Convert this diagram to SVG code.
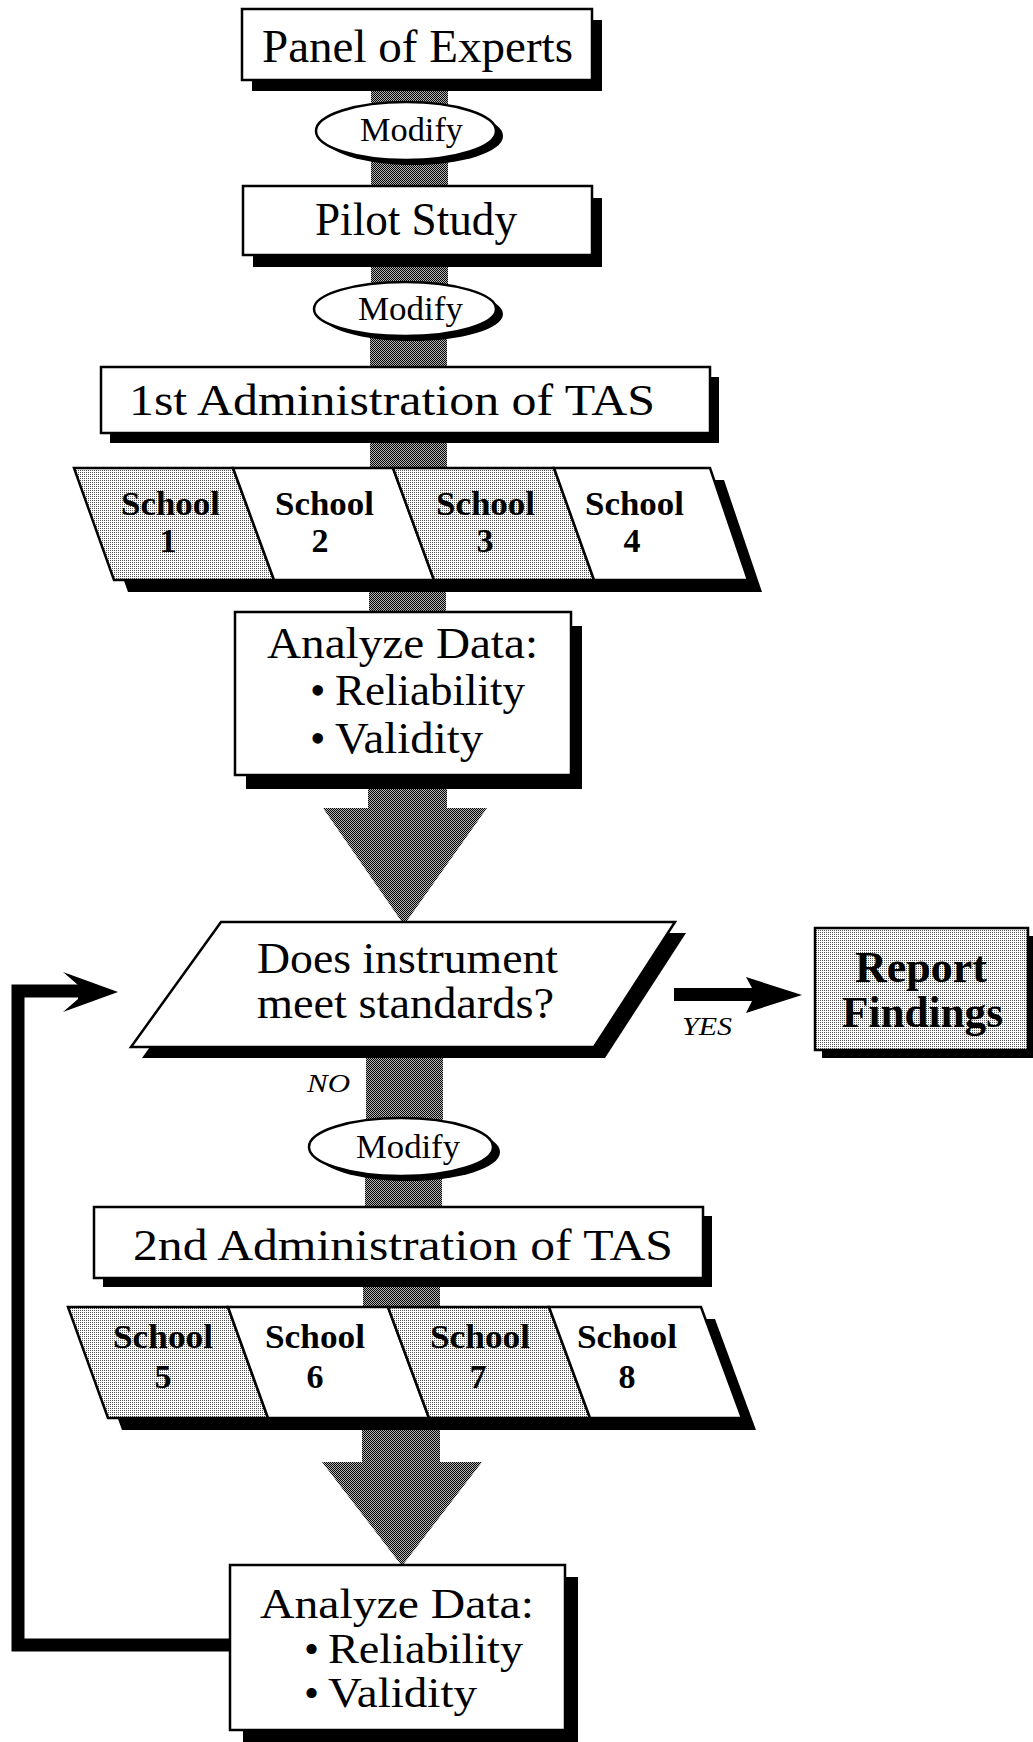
<svg xmlns="http://www.w3.org/2000/svg" width="1033" height="1742" viewBox="0 0 1033 1742">
<defs>
<pattern id="dark" width="2" height="2" patternUnits="userSpaceOnUse"><rect width="2" height="2" fill="#b4b4b4"/><rect width="1" height="1" fill="#000"/><rect x="1" y="1" width="1" height="1" fill="#000"/></pattern>
<pattern id="light" width="2" height="2" patternUnits="userSpaceOnUse"><rect width="2" height="2" fill="#fff"/><rect width="1" height="1" fill="#555"/></pattern>
</defs>
<style>
.box{fill:#fff;stroke:#000;stroke-width:2.5}
.lbox{fill:url(#light);stroke:#000;stroke-width:2.5}
.sh{fill:#000}
.stub{fill:url(#dark)}
</style>
<rect width="1033" height="1742" fill="#fff"/>
<g id="connectors">
<rect class="stub" x="371" y="85" width="77" height="25"/>
<rect class="stub" x="371" y="155" width="77" height="35"/>
<rect class="stub" x="371" y="260" width="77" height="30"/>
<rect class="stub" x="370" y="330" width="77" height="40"/>
<rect class="stub" x="370" y="435" width="77" height="35"/>
<rect class="stub" x="369" y="585" width="77" height="30"/>
<polygon class="stub" points="368,780 447,780 447,808 487,808 404,925 323,808 368,808"/>
<rect class="stub" x="366" y="1050" width="77" height="70"/>
<rect class="stub" x="365" y="1170" width="77" height="40"/>
<rect class="stub" x="363" y="1280" width="77" height="30"/>
<polygon class="stub" points="362,1425 440,1425 440,1462 482,1462 402,1566 322,1462 362,1462"/>
<path d="M232 1645 H18 V991 H84" fill="none" stroke="#000" stroke-width="13"/>
<polygon points="78,985 63,972 118,992 63,1012 78,999" fill="#000"/>
<rect x="674" y="988" width="82" height="13" fill="#000"/>
<polygon points="752,988 746,977 802,995 746,1013 752,1001" fill="#000"/>
<text font-family="Liberation Serif" font-style="italic" x="307" y="1092" font-size="26" textLength="43" lengthAdjust="spacingAndGlyphs">NO</text>
<text font-family="Liberation Serif" font-style="italic" x="682" y="1035" font-size="26" textLength="50" lengthAdjust="spacingAndGlyphs">YES</text>
</g>
<g id="panel">
<rect class="sh" x="252" y="20" width="350" height="71"/>
<rect class="box" x="242" y="9" width="350" height="71"/>
<text font-family="Liberation Serif" x="262" y="62" font-size="46" textLength="311" lengthAdjust="spacingAndGlyphs">Panel of Experts</text>
</g>
<g id="modify1">
<ellipse class="sh" cx="413" cy="136" rx="90" ry="29"/>
<ellipse class="box" cx="406" cy="131" rx="90" ry="29"/>
<text font-family="Liberation Serif" x="360" y="141" font-size="33" textLength="103" lengthAdjust="spacingAndGlyphs">Modify</text>
</g>
<g id="pilot">
<rect class="sh" x="253" y="198" width="349" height="69"/>
<rect class="box" x="243" y="186" width="349" height="69"/>
<text font-family="Liberation Serif" x="315" y="235" font-size="46" textLength="202" lengthAdjust="spacingAndGlyphs">Pilot Study</text>
</g>
<g id="modify2">
<ellipse class="sh" cx="412" cy="314" rx="91" ry="27"/>
<ellipse class="box" cx="405" cy="309" rx="91" ry="27"/>
<text font-family="Liberation Serif" x="358" y="320" font-size="33" textLength="105" lengthAdjust="spacingAndGlyphs">Modify</text>
</g>
<g id="admin1">
<rect class="sh" x="110" y="377" width="609" height="66"/>
<rect class="box" x="101" y="367" width="609" height="66"/>
<text font-family="Liberation Serif" x="129" y="415" font-size="44" textLength="526" lengthAdjust="spacingAndGlyphs">1st Administration of TAS</text>
</g>
<g id="schools1">
<polygon class="sh" points="88,480 724,480 762,592 128,592"/>
<polygon class="lbox" points="74,468 233,468 274,580 114,580"/>
<polygon class="box" points="233,468 393,468 434,580 274,580"/>
<polygon class="lbox" points="393,468 554,468 594,580 434,580"/>
<polygon class="box" points="554,468 710,468 748,580 594,580"/>
<text font-family="Liberation Serif" font-weight="bold" font-size="34" x="121" y="515" textLength="99" lengthAdjust="spacingAndGlyphs">School</text>
<text font-family="Liberation Serif" font-weight="bold" font-size="34" x="168" y="552" text-anchor="middle">1</text>
<text font-family="Liberation Serif" font-weight="bold" font-size="34" x="275" y="515" textLength="99" lengthAdjust="spacingAndGlyphs">School</text>
<text font-family="Liberation Serif" font-weight="bold" font-size="34" x="320" y="552" text-anchor="middle">2</text>
<text font-family="Liberation Serif" font-weight="bold" font-size="34" x="436" y="515" textLength="99" lengthAdjust="spacingAndGlyphs">School</text>
<text font-family="Liberation Serif" font-weight="bold" font-size="34" x="485" y="552" text-anchor="middle">3</text>
<text font-family="Liberation Serif" font-weight="bold" font-size="34" x="585" y="515" textLength="99" lengthAdjust="spacingAndGlyphs">School</text>
<text font-family="Liberation Serif" font-weight="bold" font-size="34" x="632" y="552" text-anchor="middle">4</text>
</g>
<g id="analyze1">
<rect class="sh" x="246" y="626" width="336" height="163"/>
<rect class="box" x="235" y="612" width="336" height="163"/>
<text font-family="Liberation Serif" x="267" y="658" font-size="44" textLength="271" lengthAdjust="spacingAndGlyphs">Analyze  Data:</text>
<text font-family="Liberation Serif" x="310" y="705" font-size="44">•</text>
<text font-family="Liberation Serif" x="335" y="705" font-size="44" textLength="190" lengthAdjust="spacingAndGlyphs">Reliability</text>
<text font-family="Liberation Serif" x="310" y="753" font-size="44">•</text>
<text font-family="Liberation Serif" x="335" y="753" font-size="44" textLength="148" lengthAdjust="spacingAndGlyphs">Validity</text>
</g>
<g id="decision">
<polygon class="sh" points="232,933 686,933 605,1058 142,1058"/>
<polygon class="box" points="221,922 675,922 594,1047 131,1047"/>
<text font-family="Liberation Serif" x="257" y="973" font-size="45" textLength="301" lengthAdjust="spacingAndGlyphs">Does instrument</text>
<text font-family="Liberation Serif" x="257" y="1018" font-size="45" textLength="297" lengthAdjust="spacingAndGlyphs">meet standards?</text>
</g>
<g id="report">
<rect class="sh" x="822" y="936" width="213" height="122"/>
<rect class="lbox" x="815" y="928" width="213" height="122"/>
<text font-family="Liberation Serif" font-weight="bold" x="855" y="982" font-size="44" textLength="132" lengthAdjust="spacingAndGlyphs">Report</text>
<text font-family="Liberation Serif" font-weight="bold" x="842" y="1027" font-size="44" textLength="161" lengthAdjust="spacingAndGlyphs">Findings</text>
</g>
<g id="modify3">
<ellipse class="sh" cx="408" cy="1152" rx="92" ry="29"/>
<ellipse class="box" cx="401" cy="1147" rx="92" ry="29"/>
<text font-family="Liberation Serif" x="356" y="1158" font-size="33" textLength="104" lengthAdjust="spacingAndGlyphs">Modify</text>
</g>
<g id="admin2">
<rect class="sh" x="103" y="1216" width="609" height="71"/>
<rect class="box" x="94" y="1207" width="609" height="71"/>
<text font-family="Liberation Serif" x="133" y="1260" font-size="44" textLength="540" lengthAdjust="spacingAndGlyphs">2nd Administration of TAS</text>
</g>
<g id="schools2">
<polygon class="sh" points="82,1319 715,1319 756,1430 122,1430"/>
<polygon class="lbox" points="68,1307 228,1307 268,1418 108,1418"/>
<polygon class="box" points="228,1307 388,1307 429,1418 268,1418"/>
<polygon class="lbox" points="388,1307 549,1307 590,1418 429,1418"/>
<polygon class="box" points="549,1307 701,1307 742,1418 590,1418"/>
<text font-family="Liberation Serif" font-weight="bold" font-size="34" x="113" y="1348" textLength="100" lengthAdjust="spacingAndGlyphs">School</text>
<text font-family="Liberation Serif" font-weight="bold" font-size="34" x="163" y="1388" text-anchor="middle">5</text>
<text font-family="Liberation Serif" font-weight="bold" font-size="34" x="265" y="1348" textLength="100" lengthAdjust="spacingAndGlyphs">School</text>
<text font-family="Liberation Serif" font-weight="bold" font-size="34" x="315" y="1388" text-anchor="middle">6</text>
<text font-family="Liberation Serif" font-weight="bold" font-size="34" x="430" y="1348" textLength="100" lengthAdjust="spacingAndGlyphs">School</text>
<text font-family="Liberation Serif" font-weight="bold" font-size="34" x="478" y="1388" text-anchor="middle">7</text>
<text font-family="Liberation Serif" font-weight="bold" font-size="34" x="577" y="1348" textLength="100" lengthAdjust="spacingAndGlyphs">School</text>
<text font-family="Liberation Serif" font-weight="bold" font-size="34" x="627" y="1388" text-anchor="middle">8</text>
</g>
<g id="analyze2">
<rect class="sh" x="243" y="1577" width="335" height="165"/>
<rect class="box" x="230" y="1565" width="335" height="165"/>
<text font-family="Liberation Serif" x="260" y="1618" font-size="43" textLength="274" lengthAdjust="spacingAndGlyphs">Analyze  Data:</text>
<text font-family="Liberation Serif" x="304" y="1663" font-size="43">•</text>
<text font-family="Liberation Serif" x="328" y="1663" font-size="43" textLength="195" lengthAdjust="spacingAndGlyphs">Reliability</text>
<text font-family="Liberation Serif" x="304" y="1707" font-size="43">•</text>
<text font-family="Liberation Serif" x="328" y="1707" font-size="43" textLength="149" lengthAdjust="spacingAndGlyphs">Validity</text>
</g>
</svg>
